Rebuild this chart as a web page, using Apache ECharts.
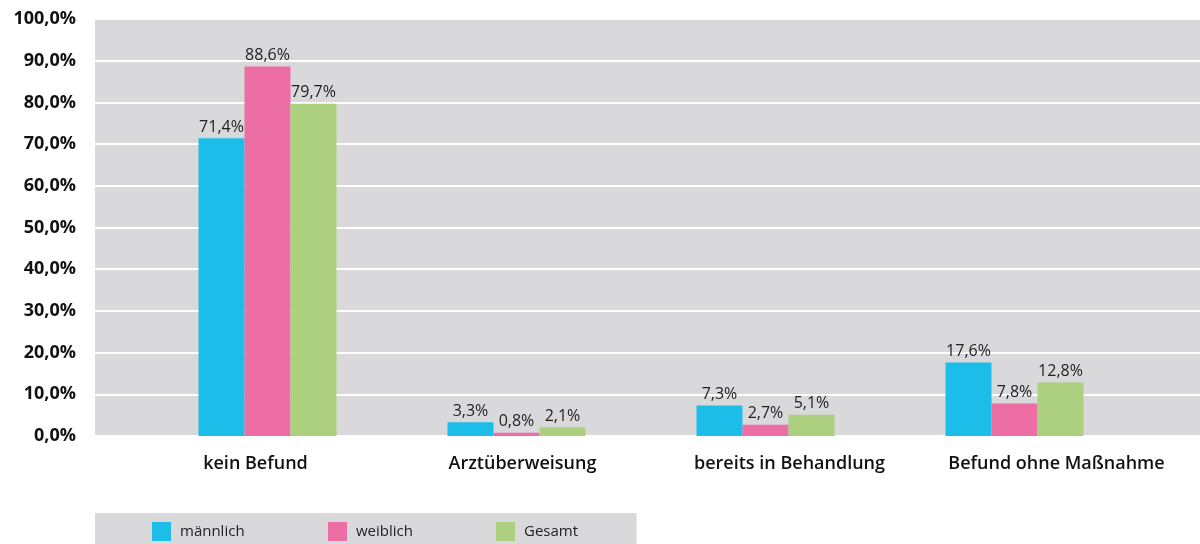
<!DOCTYPE html>
<html>
<head>
<meta charset="utf-8">
<script src="https://cdn.jsdelivr.net/npm/echarts@6/dist/echarts.min.js"></script>
<style>
  html, body { margin: 0; padding: 0; background: #ffffff; }
  #chart { width: 1200px; height: 544px; }
</style>
</head>
<body>
<div id="chart"></div>
<script>
// Befundkategorien und Anteile (in %) nach Geschlecht
const categories = ['kein Befund', 'Arztüberweisung', 'bereits in Behandlung', 'Befund ohne Maßnahme'];
const maennlich = [71.4, 3.3, 7.3, 17.6];
const weiblich = [88.6, 0.8, 2.7, 7.8];
const gesamt = [79.7, 2.1, 5.1, 12.8];
const seriesNames = ['männlich', 'weiblich', 'Gesamt'];
const colors = ['#1cbde9', '#ec6ea4', '#acd07f'];

const FONT = '"Open Sans", "DejaVu Sans", sans-serif';
const pct = v => v.toFixed(1).replace('.', ',') + '%';

const chart = echarts.init(document.getElementById('chart'), null, { renderer: 'canvas' });

const gridTop = 19, gridBottom = 108;
const seriesData = [maennlich, weiblich, gesamt];

// one legend entry per component so each swatch sits at its own place;
// the first one also draws the grey legend strip
const legendLeft = [95, 328, 496];
const legends = seriesNames.map((name, i) => ({
  data: [name],
  left: legendLeft[i],
  top: i === 0 ? 513 : 522,
  backgroundColor: i === 0 ? '#d9d9db' : 'transparent',
  padding: i === 0 ? [9, 392, 20, 57] : 0,
  itemWidth: 19, itemHeight: 19,
  icon: 'rect',
  selectedMode: false,
  z: i === 0 ? 2 : 3,
  textStyle: { fontSize: 15, color: '#222', fontFamily: FONT, padding: [0, 0, 0, 4] }
}));

chart.setOption({
  animation: false,
  textStyle: { fontFamily: FONT },
  grid: [
    // grey panel with the value axis
    { left: 95, right: 0, top: gridTop, bottom: gridBottom, show: true,
      backgroundColor: '#d9d9db', borderWidth: 0 },
    // bars
    { left: 143, width: 996, top: gridTop, bottom: gridBottom },
    // category labels
    { left: 122, width: 1068, top: gridTop, bottom: gridBottom }
  ],
  xAxis: [
    { gridIndex: 0, type: 'category', data: categories, show: false },
    { gridIndex: 1, type: 'category', data: categories, show: false },
    { gridIndex: 2, type: 'category', data: categories,
      axisLine: { show: false }, axisTick: { show: false },
      axisLabel: { margin: 19, fontSize: 18, fontWeight: 600, color: '#111',
        fontFamily: FONT, interval: 0 } }
  ],
  yAxis: [
    { gridIndex: 0, type: 'value', min: 0, max: 100, interval: 10,
      axisLine: { show: false }, axisTick: { show: false },
      axisLabel: { margin: 19, fontSize: 18, fontWeight: 'bold', color: '#111',
        fontFamily: FONT, formatter: v => pct(v) },
      splitLine: { show: true, lineStyle: { color: '#ffffff', width: 2 } } },
    { gridIndex: 1, type: 'value', min: 0, max: 100, interval: 10, show: false,
      splitLine: { show: false } },
    { gridIndex: 2, type: 'value', min: 0, max: 100, interval: 10, show: false,
      splitLine: { show: false } }
  ],
  legend: legends,
  series: seriesData.map((d, i) => ({
    name: seriesNames[i],
    type: 'bar',
    xAxisIndex: 1, yAxisIndex: 1,
    data: d,
    barWidth: 46,
    barGap: '0%',
    itemStyle: { color: colors[i] },
    label: { show: true, position: 'top', distance: 3, fontSize: 16, color: '#222',
      fontFamily: FONT, formatter: p => pct(p.value) }
  }))
});
</script>
</body>
</html>
